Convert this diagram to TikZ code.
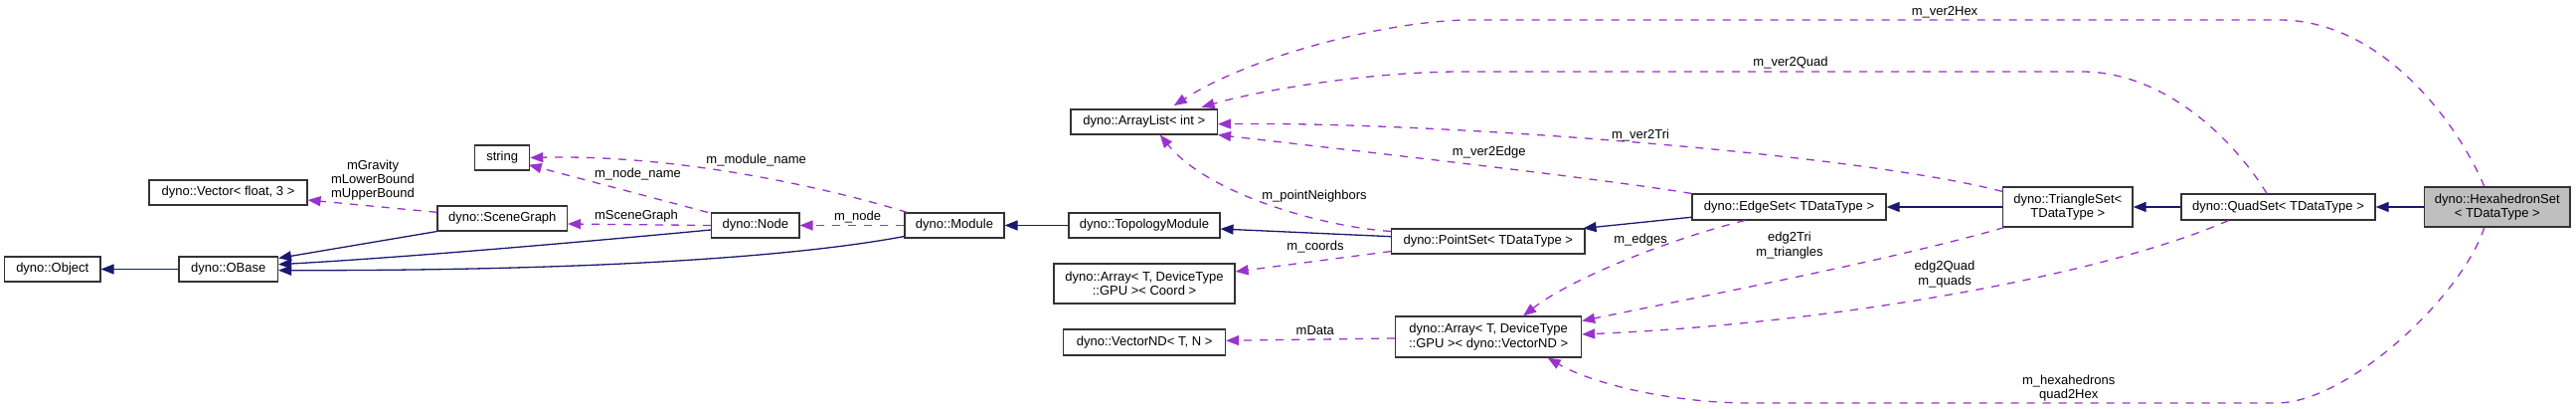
\documentclass[tikz,border=0pt]{standalone}
\usepackage{fontspec}
\setmainfont{Liberation Sans}
\usetikzlibrary{arrows.meta,calc}
\definecolor{edgepurple}{HTML}{9A32CD}
\definecolor{edgenavy}{HTML}{191970}
\definecolor{boxgray}{HTML}{BFBFBF}
\begin{document}
\begin{tikzpicture}[x=1pt,y=-1pt,
  every node/.style={font=\fontsize{13}{14.3}\selectfont},
  cls/.style={draw=black!80, line width=1.1pt, fill=white, inner sep=0pt, minimum height=25pt, align=center},
  inh/.style={draw=edgenavy, line width=1.3pt, -{Triangle[length=13pt,width=10pt]}},
  use/.style={draw=edgepurple, line width=1.3pt, dash pattern=on 8pt off 8pt, -{Triangle[length=13pt,width=10pt]}},
  lbl/.style={inner sep=0pt, align=center, text=black}]
\useasboundingbox (0,0) rectangle (2591,411);

% classes
\node[cls, minimum width=96.5pt] (obj) at (52.75,270.5) {dyno::Object};
\node[cls, minimum width=99.5pt] (obase) at (229.75,270.5) {dyno::OBase};
\node[cls, minimum width=159pt] (vec) at (229.5,193.5) {dyno::Vector< float, 3 >};
\node[cls, minimum width=130.5pt] (sg) at (505.25,219.5) {dyno::SceneGraph};
\node[cls, minimum width=55pt] (str) at (505.15,158.5) {string};
\node[cls, minimum width=88.4pt] (node) at (759.8,226.5) {dyno::Node};
\node[cls, minimum width=100pt] (module) at (960,226.5) {dyno::Module};
\node[cls, minimum width=152pt] (topo) at (1151,226.5) {dyno::TopologyModule};
\node[cls, minimum width=147.5pt] (alist) at (1150.75,122.5) {dyno::ArrayList< int >};
\node[cls, minimum width=182pt, minimum height=40pt] (acoord) at (1151,285) {dyno::Array< T, DeviceType\\::GPU >< Coord >};
\node[cls, minimum width=163pt, minimum height=26pt] (vnd) at (1151.1,344) {dyno::VectorND< T, N >};
\node[cls, minimum width=194.4pt] (pset) at (1496.8,242.5) {dyno::PointSet< TDataType >};
\node[cls, minimum width=187pt, minimum height=41pt] (avnd) at (1497.1,338.5) {dyno::Array< T, DeviceType\\::GPU >< dyno::VectorND >};
\node[cls, minimum width=195pt, minimum height=26pt] (eset) at (1799.5,208) {dyno::EdgeSet< TDataType >};
\node[cls, minimum width=130.4pt, minimum height=40pt] (tset) at (2079.8,208) {dyno::TriangleSet<\\TDataType >};
\node[cls, minimum width=195pt, minimum height=26pt] (qset) at (2291.5,208) {dyno::QuadSet< TDataType >};
\node[cls, fill=boxgray, minimum width=146.4pt, minimum height=40pt] (hex) at (2511.8,208) {dyno::HexahedronSet\\< TDataType >};

% bend points
\coordinate (q1) at (2094,72);
\coordinate (q2) at (1470,72);
\coordinate (h1) at (2295,20);
\coordinate (h2) at (1480,20);
\coordinate (x1) at (2290,405);
\coordinate (x2) at (1760,405);

% inheritance
\draw[inh] (obase.west) -- (obj.east);
\draw[inh] (sg.south west) -- ($(obase.north east)+(0,2)$);
\draw[inh] ($(node.west)+(0,4.5)$) .. controls (620,240) and (420,258) .. ($(obase.east)+(0,-4.8)$);
\draw[inh] ($(module.south west)+(0,-2)$) .. controls (800,258) and (600,272) .. ($(obase.east)+(0,1.2)$);
\draw[inh] (topo.west) -- (module.east);
\draw[inh] ($(pset.west)+(0,-4.8)$) -- ($(topo.east)+(0,3.5)$);
\draw[inh] ($(eset.south west)+(0,-3.3)$) -- ($(pset.north east)+(-2,0)$);
\draw[inh] (tset.west) -- (eset.east);
\draw[inh] (qset.west) -- (tset.east);
\draw[inh] (hex.west) -- (qset.east);

% usage
\draw[use] ($(sg.west)+(0,-6.2)$) -- ($(vec.east)+(0,7.5)$);
\draw[use] (node.west) -- ($(sg.east)+(0,5.5)$);
\draw[use] ($(node.north west)+(-3,0)$) -- ($(str.east)+(-1.5,7.2)$);
\draw[use] ($(module.north west)+(3,0)$) .. controls (830,188) and (680,155) .. (str.east);
\draw[use] (module.west) -- (node.east);
\draw[use] ($(pset.north west)+(0,3)$) .. controls (1330,228) and (1215,195) .. ($(alist.south)+(16,0)$);
\draw[use] ($(pset.south west)+(0,-3)$) -- ($(acoord.east)+(0,-12)$);
\draw[use] ($(avnd.west)+(0,1.5)$) -- ($(vnd.east)+(0,-1.7)$);
\draw[use] (eset.north west) .. controls (1600,178) and (1350,150) .. (alist.south east);
\draw[use] ($(tset.north west)+(0,5)$) .. controls (1870,155) and (1450,122) .. ($(alist.east)+(0,2.2)$);
\draw[use] ($(qset.north)+(-11.5,0)$) .. controls (2240,130) and (2170,72) .. (q1) -- (q2) .. controls (1380,72) and (1270,90) .. ($(alist.north east)+(-16.5,-1.7)$);
\draw[use] ($(hex.north)+(-13,0)$) .. controls (2470,120) and (2395,22) .. (h1) -- (h2) .. controls (1400,20) and (1260,55) .. ($(alist.north)+(30,-3.3)$);
\draw[use] ($(eset.south)+(-44.5,0)$) .. controls (1680,240) and (1580,280) .. ($(avnd.north)+(35,0)$);
\draw[use] ($(tset.south west)+(2,0)$) .. controls (1900,262) and (1700,300) .. ($(avnd.east)+(0,-16)$);
\draw[use] ($(qset.south west)+(48,0)$) .. controls (2120,275) and (1850,325) .. ($(avnd.east)+(0,-2.5)$);
\draw[use] ($(hex.south)+(-13,0)$) .. controls (2475,300) and (2360,405) .. (x1) -- (x2) .. controls (1680,405) and (1600,385) .. ($(avnd.south)+(59.6,0)$);

% labels
\node[lbl] (lgrav) at (375,181) {mGravity\\mLowerBound\\mUpperBound};
\node[lbl] (lsg) at (640,217) {mSceneGraph};
\node[lbl] (lnn) at (641.5,175) {m\_node\_name};
\node[lbl] (lmn) at (760.7,161) {m\_module\_name};
\node[lbl] (lnode) at (862.5,218) {m\_node};
\node[lbl] (lpn) at (1322,197) {m\_pointNeighbors};
\node[lbl] (lcoords) at (1323,248) {m\_coords};
\node[lbl] (ldata) at (1322.8,332) {mData};
\node[lbl] (lv2e) at (1497.8,153) {m\_ver2Edge};
\node[lbl] (lv2t) at (1650,136) {m\_ver2Tri};
\node[lbl] (lv2q) at (1801,63) {m\_ver2Quad};
\node[lbl] (lv2h) at (1956,12) {m\_ver2Hex};
\node[lbl] (ledges) at (1650,241) {m\_edges};
\node[lbl] (ltri) at (1800,246.5) {edg2Tri\\m\_triangles};
\node[lbl] (lquad) at (1956,275.5) {edg2Quad\\m\_quads};
\node[lbl] (lhex) at (2080.7,390) {m\_hexahedrons\\quad2Hex};
\end{tikzpicture}
\end{document}
